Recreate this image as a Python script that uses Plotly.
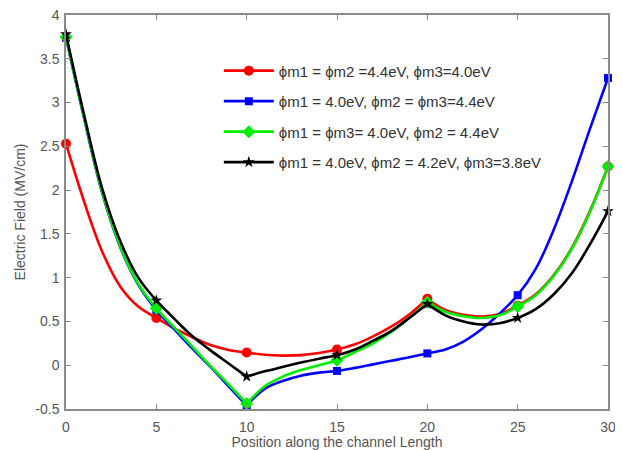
import plotly.graph_objects as go

# ---- data (value at every unit of position) ----
pos = list(range(0, 31))
MARK_X = [0, 5, 10, 15, 20, 25, 30]

red_y = [2.53, 1.87, 1.30, 0.90, 0.67, 0.54, 0.42, 0.32, 0.23, 0.175, 0.145,
         0.12, 0.11, 0.115, 0.14, 0.18, 0.24, 0.33, 0.44, 0.58, 0.76,
         0.63, 0.575, 0.555, 0.585, 0.68, 0.81, 1.03, 1.34, 1.76, 2.27]
blue_y = [3.74, 2.82, 1.97, 1.35, 0.92, 0.63, 0.41, 0.19, -0.02, -0.24, -0.46,
          -0.27, -0.18, -0.12, -0.085, -0.065, -0.03, 0.01, 0.05, 0.09, 0.135,
          0.18, 0.27, 0.41, 0.59, 0.80, 1.10, 1.55, 2.10, 2.70, 3.28]
green_y = [3.75, 2.83, 1.98, 1.36, 0.93, 0.65, 0.43, 0.21, -0.01, -0.22, -0.44,
           -0.24, -0.13, -0.055, 0.0, 0.057, 0.15, 0.25, 0.38, 0.54, 0.72,
           0.61, 0.56, 0.54, 0.57, 0.67, 0.80, 1.02, 1.33, 1.75, 2.27]
black_y = [3.78, 2.86, 2.02, 1.42, 1.00, 0.74, 0.53, 0.33, 0.17, 0.02, -0.13,
           -0.07, -0.02, 0.03, 0.075, 0.115, 0.18, 0.28, 0.39, 0.54, 0.70,
           0.57, 0.50, 0.465, 0.48, 0.54, 0.64, 0.81, 1.05, 1.38, 1.76]

red_kinks = [20]
blue_kinks = [10]
green_kinks = [10, 20]
black_kinks = [10, 20]

labels = ["\u03d5m1 = \u03d5m2 =4.4eV, \u03d5m3=4.0eV",
          "\u03d5m1 = 4.0eV, \u03d5m2 = \u03d5m3=4.4eV",
          "\u03d5m1 = \u03d5m3= 4.0eV, \u03d5m2 = 4.4eV",
          "\u03d5m1 = 4.0eV, \u03d5m2 = 4.2eV, \u03d5m3=3.8eV"]

x_ticks = [0, 5, 10, 15, 20, 25, 30]
y_ticks = [-0.5, 0, 0.5, 1, 1.5, 2, 2.5, 3, 3.5, 4]
y_ticktext = ["-0.5", "0", "0.5", "1", "1.5", "2", "2.5", "3", "3.5", "4"]

series = [
    (red_y, red_kinks, labels[0], "#ff0000", "circle", 10),
    (blue_y, blue_kinks, labels[1], "#0000ff", "square", 8),
    (green_y, green_kinks, labels[2], "#00ee00", "diamond", 10),
    (black_y, black_kinks, labels[3], "#000000", "star", 9),
]

FONT = "Liberation Sans, Arial, sans-serif"

fig = go.Figure()
for i, (ys, kinks, name, col, sym, msize) in enumerate(series):
    grp = f"g{i}"
    bounds = [pos[0]] + kinks + [pos[-1]]
    for a, b in zip(bounds[:-1], bounds[1:]):
        sx = [x for x in pos if a <= x <= b]
        sy = [y for x, y in zip(pos, ys) if a <= x <= b]
        fig.add_trace(go.Scatter(x=sx, y=sy, mode="lines", legendgroup=grp, showlegend=False,
                                 line=dict(color=col, width=2.6, shape="spline", smoothing=1.0),
                                 hoverinfo="skip"))
    mx = [x for x in pos if x in MARK_X]
    my = [y for x, y in zip(pos, ys) if x in MARK_X]
    fig.add_trace(go.Scatter(x=mx, y=my, mode="markers", legendgroup=grp, showlegend=False,
                             cliponaxis=False,
                             marker=dict(color=col, symbol=sym, size=msize, line=dict(width=0))))
    fig.add_trace(go.Scatter(x=[None], y=[None], mode="lines+markers", name=name, legendgroup=grp,
                             line=dict(color=col, width=2.6),
                             marker=dict(color=col, symbol=sym, size=msize, line=dict(width=0))))

axis_common = dict(showline=True, linecolor="#8a8a8a", linewidth=1.5, mirror="allticks",
                   ticks="inside", ticklen=5, tickcolor="#8a8a8a", tickwidth=1,
                   showgrid=False, zeroline=False, ticklabeloverflow="allow",
                   tickfont=dict(family=FONT, size=14, color="#555555"))

# page has an 8px body margin, so the figure is sized to fit inside the 623x450 window
fig.update_layout(
    width=615, height=442,
    margin=dict(l=58, r=15, t=7, b=41, autoexpand=False),
    paper_bgcolor="white", plot_bgcolor="white",
    font=dict(family=FONT, color="#333333"),
    showlegend=True,
    legend=dict(x=0.282, y=0.9, xanchor="left", yanchor="top", bgcolor="rgba(0,0,0,0)",
                borderwidth=0, tracegroupgap=8, itemwidth=50,
                font=dict(family=FONT, size=15, color="#333333")),
    xaxis=dict(range=[0, 30], tickvals=x_ticks, ticktext=[str(v) for v in x_ticks],
               ticklabelstandoff=4,
               title=dict(text="Position along the channel Length", standoff=3,
                          font=dict(size=14, color="#555555")),
               **axis_common),
    yaxis=dict(range=[-0.5, 4], tickvals=y_ticks, ticktext=y_ticktext,
               ticklabelstandoff=2,
               title=dict(text="Electric Field (MV/cm)", standoff=6,
                          font=dict(size=14, color="#555555")),
               **axis_common),
)

fig.write_html("out.html")
